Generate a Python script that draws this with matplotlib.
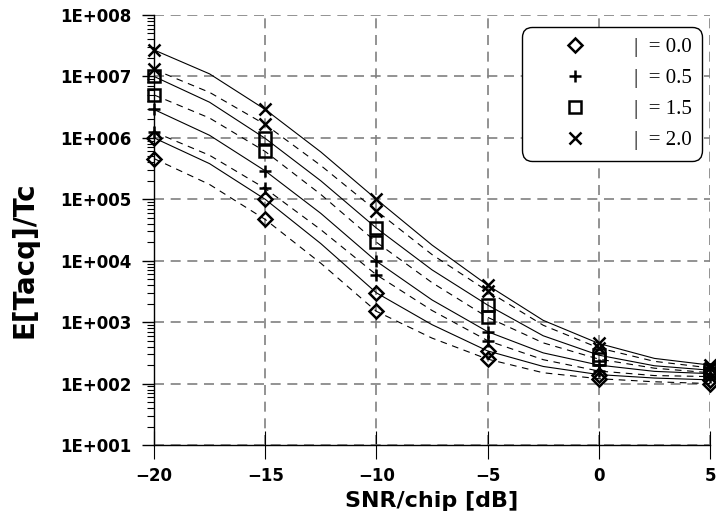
import numpy as np
import matplotlib.pyplot as plt
from matplotlib.lines import Line2D
from matplotlib.ticker import LogLocator, FuncFormatter, NullFormatter

plt.rcParams['font.family'] = 'DejaVu Sans'

# simulation points (markers), upper point = solid curve, lower = dashed curve
snr_pts = [-20, -15, -10, -5, 0, 5]
beta_labels = ['|  = 0.0', '|  = 0.5', '|  = 1.5', '|  = 2.0']
markers = ['D', '+', 's', 'x']

sim_b00_a = [1.0e6, 1.0e5, 3.0e3, 340, 140, 115]
sim_b00_b = [4.6e5, 4.7e4, 1.5e3, 250, 120, 100]
sim_b05_a = [2.9e6, 2.9e5, 9.8e3, 700, 200, 145]
sim_b05_b = [1.25e6, 1.5e5, 5.9e3, 500, 160, 130]
sim_b15_a = [1.0e7, 9.8e5, 3.4e4, 1.9e3, 290, 165]
sim_b15_b = [5.0e6, 6.0e5, 2.0e4, 1.2e3, 250, 150]
sim_b20_a = [2.7e7, 2.9e6, 1.0e5, 4.0e3, 450, 200]
sim_b20_b = [1.3e7, 1.65e6, 6.5e4, 3.2e3, 380, 180]

# analytic curves, read at 2.5 dB steps
snr_curve = [-20, -17.5, -15, -12.5, -10, -7.5, -5, -2.5, 0, 2.5, 5]
th_b00_a = [1.0e6, 3.8e5, 1.0e5, 1.9e4, 3.0e3, 910, 340, 190, 140, 123, 115]
th_b00_b = [4.6e5, 1.74e5, 4.7e4, 9.1e3, 1.5e3, 550, 250, 150, 120, 107, 100]
th_b05_a = [2.9e6, 1.1e6, 2.9e5, 5.9e4, 9.8e3, 2.3e3, 700, 316, 200, 158, 145]
th_b05_b = [1.25e6, 5.2e5, 1.5e5, 3.2e4, 5.9e3, 1.55e3, 500, 245, 160, 135, 130]
th_b15_a = [1.0e7, 3.8e6, 9.8e5, 2.0e5, 3.4e4, 7.1e3, 1.9e3, 600, 290, 195, 165]
th_b15_b = [5.0e6, 2.1e6, 6.0e5, 1.2e5, 2.0e4, 4.4e3, 1.2e3, 460, 250, 178, 150]
th_b20_a = [2.7e7, 1.1e7, 2.9e6, 5.9e5, 1.0e5, 1.8e4, 4.0e3, 1.07e3, 450, 257, 200]
th_b20_b = [1.3e7, 5.5e6, 1.65e6, 3.55e5, 6.5e4, 1.26e4, 3.2e3, 890, 380, 230, 180]

fig = plt.figure(figsize=(7.16, 5.31), dpi=100)
ax = fig.add_axes([154 / 716, 1 - 445 / 531, 556 / 716, 430 / 531])
ax.set_yscale('log')

curves = [(th_b00_a, th_b00_b), (th_b05_a, th_b05_b), (th_b15_a, th_b15_b), (th_b20_a, th_b20_b)]
sims = [(sim_b00_a, sim_b00_b), (sim_b05_a, sim_b05_b), (sim_b15_a, sim_b15_b), (sim_b20_a, sim_b20_b)]

for (ca, cb) in curves:
    ax.plot(snr_curve, ca, color='black', lw=0.8, ls='-', zorder=3)
    ax.plot(snr_curve, cb, color='black', lw=0.8, ls=(0, (6, 5)), zorder=3)

for m, (sa, sb) in zip(markers, sims):
    ms = 7 if m == 'D' else 9
    for s in [sa, sb]:
        ax.plot(snr_pts, s, ls='none', marker=m, ms=ms, mfc='none', mec='black',
                mew=1.8, clip_on=False, zorder=4)

ax.set_xlim(-20, 5)
ax.set_ylim(1e1, 1e8)
ax.set_xticks([-20, -15, -10, -5, 0, 5])
ax.yaxis.set_major_locator(LogLocator(base=10, numticks=10))
ax.yaxis.set_minor_locator(LogLocator(base=10, subs=np.arange(2, 10), numticks=20))
ax.yaxis.set_major_formatter(FuncFormatter(lambda v, p: '1E+{:03d}'.format(int(round(np.log10(v))))))
ax.yaxis.set_minor_formatter(NullFormatter())

ax.grid(True, which='major', color='#808080', ls=(0, (6, 4)), lw=1.2, zorder=1)
ax.spines['top'].set_visible(False)
ax.spines['right'].set_visible(False)
for s in ['left', 'bottom']:
    ax.spines[s].set_linewidth(1.0)
    ax.spines[s].set_zorder(2)

ax.tick_params(axis='y', which='major', direction='out', length=9, width=1, pad=7)
ax.tick_params(axis='y', which='minor', direction='out', length=5, width=0.8)
ax.tick_params(axis='x', which='major', direction='inout', length=20, width=0.8, pad=6)
for lab in ax.get_xticklabels() + ax.get_yticklabels():
    lab.set_fontsize(12)
    lab.set_fontweight('bold')

ax.set_xlabel('SNR/chip [dB]', fontsize=16, fontweight='bold', labelpad=4)
ax.set_ylabel('E[Tacq]/Tc', fontsize=20, fontweight='bold')
ax.yaxis.set_label_coords(-0.207, 0.43)

handles = [Line2D([], [], ls='none', marker=m, ms=(7 if m == 'D' else 9), mfc='none',
                  mec='black', mew=1.8) for m in markers]
leg = ax.legend(handles, beta_labels, loc='upper right',
                bbox_to_anchor=(1 - 8 / 556, 1 - 12 / 430), borderaxespad=0,
                prop={'family': 'Liberation Serif', 'size': 15},
                handlelength=4.1, handletextpad=0.78, borderpad=0.5, labelspacing=0.55,
                fancybox=True, framealpha=1, edgecolor='black', numpoints=1)
leg.get_frame().set_linewidth(1.0)
leg.get_frame().set_boxstyle('round,pad=0,rounding_size=0.5')
leg.set_zorder(10)

fig.savefig('out.png', dpi=100)
